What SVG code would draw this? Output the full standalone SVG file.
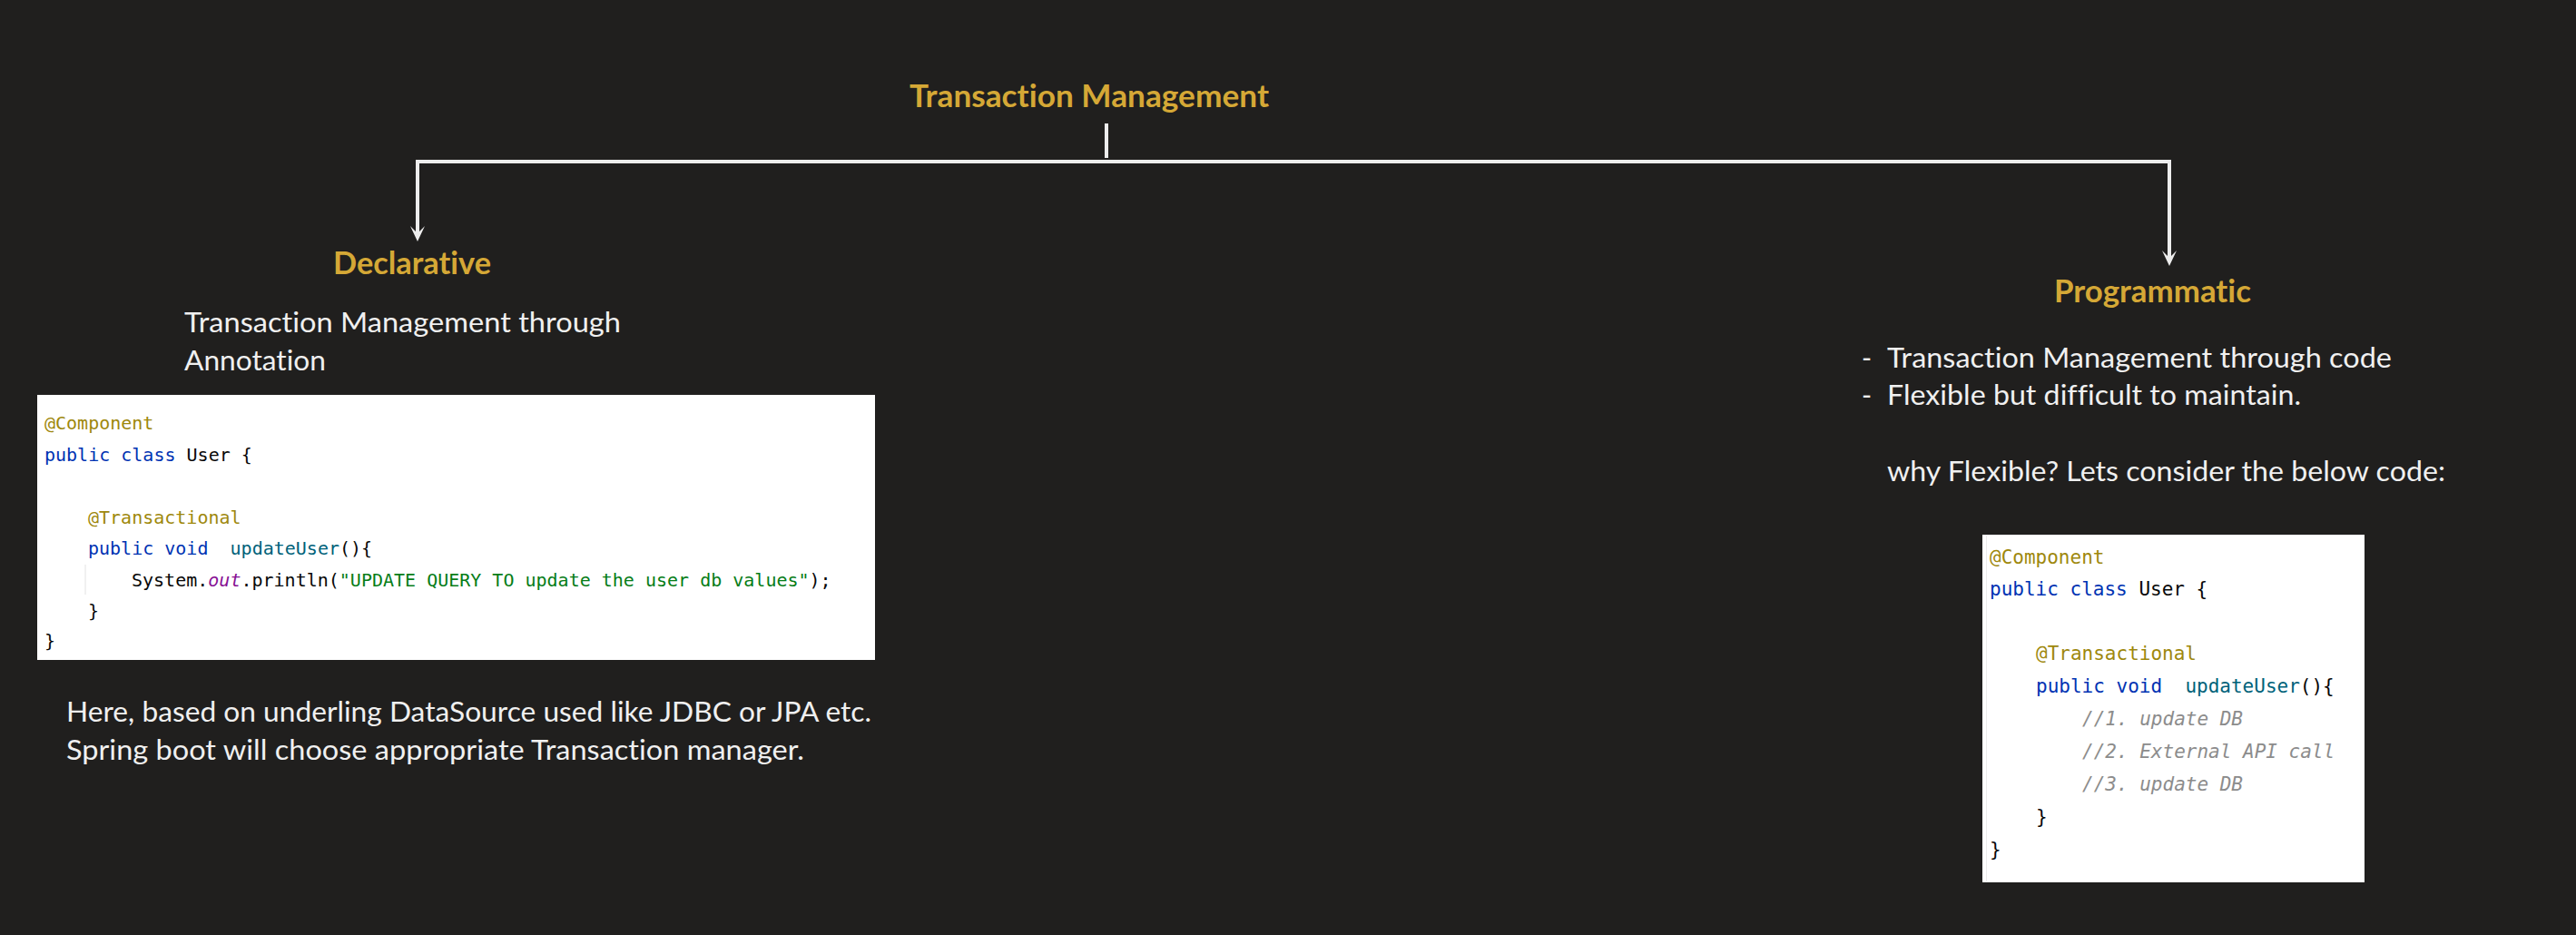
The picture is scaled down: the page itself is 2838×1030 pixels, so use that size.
<svg xmlns="http://www.w3.org/2000/svg" width="2838" height="1030" viewBox="0 0 2838 1030">
<defs>
<style>
.h{font-family:Lato,"Open Sans","Liberation Sans",sans-serif;font-weight:bold;font-size:34px;fill:#D5A836;font-variant-ligatures:none}
.t{font-family:Lato,"Open Sans","Liberation Sans",sans-serif;font-size:30px;fill:#F0F0F0;font-variant-ligatures:none}
.c{font-family:"DejaVu Sans Mono","Liberation Mono",monospace;fill:#080808;white-space:pre}
.cl{font-size:20px}
.cr{font-size:21px}
.an{fill:#9E880D}
.kw{fill:#0033B3}
.fn{fill:#00627A}
.st{fill:#067D17}
.sf{fill:#871094;font-style:italic}
.cm{fill:#8C8C8C;font-style:italic}
.conn{fill:none;stroke:#EDEDED;stroke-width:4}
</style>
<marker id="arr" viewBox="0 0 17 16" refX="8" refY="8" markerWidth="17" markerHeight="16" markerUnits="userSpaceOnUse" orient="auto-start-reverse">
<path d="M0,0 L17,8 L0,16 L8,8 Z" fill="#EDEDED"/>
</marker>
</defs>
<rect width="2838" height="1030" fill="#201F1E"/>

<g id="connectors">
<path class="conn" d="M1219,136 L1219,174"/>
<path class="conn" d="M460,257 L460,178 L2390,178 L2390,284" marker-start="url(#arr)" marker-end="url(#arr)"/>
</g>

<g id="title">
<text class="h" x="1002" y="118" textLength="396" lengthAdjust="spacingAndGlyphs">Transaction Management</text>
</g>

<g id="declarative">
<text class="h" x="367" y="302" textLength="174" lengthAdjust="spacingAndGlyphs">Declarative</text>
<text class="t" x="203" y="366" textLength="481" lengthAdjust="spacingAndGlyphs">Transaction Management through</text>
<text class="t" x="203" y="408" textLength="156" lengthAdjust="spacingAndGlyphs">Annotation</text>
</g>

<g id="declarative-code">
<rect x="41" y="435" width="923" height="292" fill="#FFFFFF"/>
<line x1="94" y1="622" x2="94" y2="655" stroke="#E2E2E2" stroke-width="1"/>
<text class="c cl" x="49" y="473" xml:space="preserve"><tspan class="an">@Component</tspan></text>
<text class="c cl" x="49" y="508" xml:space="preserve"><tspan class="kw">public class </tspan>User {</text>
<text class="c cl" x="97" y="577" xml:space="preserve"><tspan class="an">@Transactional</tspan></text>
<text class="c cl" x="97" y="611" xml:space="preserve"><tspan class="kw">public void  </tspan><tspan class="fn">updateUser</tspan>(){</text>
<text class="c cl" x="145" y="646" xml:space="preserve">System.<tspan class="sf">out</tspan>.println(<tspan class="st">"UPDATE QUERY TO update the user db values"</tspan>);</text>
<text class="c cl" x="97" y="680">}</text>
<text class="c cl" x="49" y="713">}</text>
</g>

<g id="declarative-note">
<text class="t" x="73" y="795" textLength="887" lengthAdjust="spacingAndGlyphs">Here, based on underling DataSource used like JDBC or JPA etc.</text>
<text class="t" x="73" y="837" textLength="813" lengthAdjust="spacingAndGlyphs">Spring boot will choose appropriate Transaction manager.</text>
</g>

<g id="programmatic">
<text class="h" x="2263" y="333" textLength="217" lengthAdjust="spacingAndGlyphs">Programmatic</text>
<text class="t" x="2051" y="405">-</text>
<text class="t" x="2079" y="405" textLength="556" lengthAdjust="spacingAndGlyphs">Transaction Management through code</text>
<text class="t" x="2051" y="446">-</text>
<text class="t" x="2079" y="446" textLength="456" lengthAdjust="spacingAndGlyphs">Flexible but difficult to maintain.</text>
<text class="t" x="2079" y="530" textLength="615" lengthAdjust="spacingAndGlyphs">why Flexible? Lets consider the below code:</text>
</g>

<g id="programmatic-code">
<rect x="2184" y="589" width="421" height="383" fill="#FFFFFF"/>
<line x1="2188.5" y1="590" x2="2188.5" y2="971" stroke="#EBEBEB" stroke-width="1"/>
<text class="c cr" x="2192" y="621" xml:space="preserve"><tspan class="an">@Component</tspan></text>
<text class="c cr" x="2192" y="656" xml:space="preserve"><tspan class="kw">public class </tspan>User {</text>
<text class="c cr" x="2243" y="727" xml:space="preserve"><tspan class="an">@Transactional</tspan></text>
<text class="c cr" x="2243" y="763" xml:space="preserve"><tspan class="kw">public void  </tspan><tspan class="fn">updateUser</tspan>(){</text>
<text class="c cr cm" x="2294" y="799">//1. update DB</text>
<text class="c cr cm" x="2294" y="835">//2. External API call</text>
<text class="c cr cm" x="2294" y="871">//3. update DB</text>
<text class="c cr" x="2243" y="907">}</text>
<text class="c cr" x="2192" y="943">}</text>
</g>
</svg>
